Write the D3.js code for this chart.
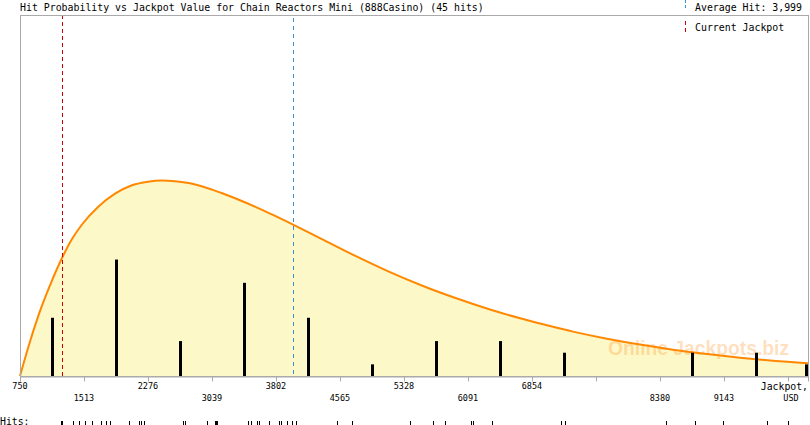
<!DOCTYPE html>
<html>
<head>
<meta charset="utf-8">
<script src="https://cdn.jsdelivr.net/npm/d3@7"></script>
<style>
  html, body { margin: 0; padding: 0; background: #fff; }
  svg { display: block; }
  text { font-family: "DejaVu Sans Mono", "Liberation Mono", monospace; fill: #000; }
</style>
</head>
<body>
<svg id="chart" width="810" height="425"></svg>
<script>
// ---------------- data ----------------
const titleText = "Hit Probability vs Jackpot Value for Chain Reactors Mini (888Casino) (45 hits)";
const averageHit = 3999;
const currentJackpot = 1254;
const xMin = 750, xMax = 10145;

const tickValues = [750, 1513, 2276, 3039, 3802, 4565, 5328, 6091, 6854, 7617, 8380, 9143, 9906];
const tickLabels = ["750", "1513", "2276", "3039", "3802", "4565", "5328", "6091", "6854", "", "8380", "9143", ""];

// hits per bin (bin width = tick step)
const binCounts = [5, 10, 3, 8, 5, 1, 3, 3, 2, 0, 2, 2, 1];

// fitted probability curve (relative level, same units as bar counts)
const curveJackpot = [750, 875, 1000, 1126, 1251, 1370, 1489, 1680, 1883, 2085, 2276, 2443, 2598, 2777,
  2979, 3170, 3373, 3576, 3766, 4005, 4362, 4768, 5161, 5555, 5960, 6353, 6747, 7069, 7343, 7748, 8142,
  8535, 8940, 9334, 9727, 10145];
const curveLevel = [0, 3.09, 5.80, 8.11, 10.13, 11.76, 13.01, 14.52, 15.66, 16.38, 16.69, 16.78, 16.72,
  16.55, 16.15, 15.67, 15.09, 14.46, 13.83, 13.00, 11.71, 10.25, 8.92, 7.73, 6.65, 5.71, 4.89, 4.29, 3.81,
  3.20, 2.70, 2.26, 1.88, 1.57, 1.31, 1.09];

// individual hits (rug)
const hits = [1239, 1251, 1378, 1453, 1529, 1612, 1712, 1775, 1823, 2046, 2165, 2196, 2225, 2697, 2721,
  2976, 3075, 3083, 3095, 3472, 3500, 3579, 3599, 3715, 3834, 3862, 3930, 3993, 4037, 4526, 4705, 5400,
  5677, 5817, 6123, 6154, 6381, 7196, 7244, 8448, 8794, 9135, 9652, 9910];

// ---------------- drawing ----------------
const svg = d3.select("#chart");
const padL = 20, padR = 808, padT = 15, padB = 376;

const x = d3.scaleLinear().domain([xMin, xMax]).range([padL, padR]);
const xc = x.copy().clamp(true);
const y = d3.scaleLinear().domain([0, 31]).range([padB, padT]);

const fmt = d3.format(",");

// area under curve
const curvePts = curveJackpot.map((v, i) => [v, curveLevel[i]]);
svg.append("path")
  .datum(curvePts)
  .attr("fill", "#fdf8c8")
  .attr("d", d3.area().x(d => x(d[0])).y0(y(0)).y1(d => y(d[1])).curve(d3.curveMonotoneX));

// watermark
svg.append("text")
  .attr("x", 608).attr("y", 355)
  .style("font-family", "'Liberation Sans', Arial, sans-serif")
  .style("font-weight", "bold")
  .style("font-size", "19.3px")
  .style("fill", "#ff9a30")
  .style("fill-opacity", 0.32)
  .text("Online Jackpots.biz");

// curve line
svg.append("path")
  .datum(curvePts)
  .attr("fill", "none")
  .attr("stroke", "#ff8800")
  .attr("stroke-width", 2)
  .attr("d", d3.line().x(d => x(d[0])).y(d => y(d[1])).curve(d3.curveMonotoneX));

// histogram bars
const binWidth = tickValues[1] - tickValues[0];
svg.append("g").selectAll("rect")
  .data(binCounts)
  .join("rect")
  .attr("x", (d, i) => Math.min(Math.round(xc(xMin + binWidth * (i + 0.5))) - 1, padR - 3))
  .attr("width", 3)
  .attr("y", d => y(d))
  .attr("height", d => y(0) - y(d))
  .attr("fill", "#000")
  .style("display", d => d > 0 ? null : "none");

// vertical reference lines
svg.append("line")
  .attr("x1", Math.round(x(currentJackpot)) + 0.5).attr("x2", Math.round(x(currentJackpot)) + 0.5)
  .attr("y1", padT).attr("y2", padB)
  .attr("stroke", "#d00000").attr("stroke-width", 1).attr("stroke-dasharray", "4,3");
svg.append("line")
  .attr("x1", Math.round(x(averageHit)) + 0.5).attr("x2", Math.round(x(averageHit)) + 0.5)
  .attr("y1", padT + 3).attr("y2", padB)
  .attr("stroke", "#3a8fcf").attr("stroke-width", 1).attr("stroke-dasharray", "4,4");

// frame
svg.append("rect")
  .attr("x", padL + 0.5).attr("y", padT + 0.5)
  .attr("width", padR - padL).attr("height", padB - padT)
  .attr("fill", "none").attr("stroke", "#aaaaaa").attr("stroke-width", 1)
  .style("shape-rendering", "crispEdges");

// x axis
const axis = d3.axisBottom(x).tickValues(tickValues).tickSize(5).tickFormat("");
const gAxis = svg.append("g").attr("transform", `translate(0,${padB + 0.5})`).call(axis);
gAxis.select(".domain").attr("stroke", "#aaaaaa");
gAxis.selectAll(".tick line").attr("stroke", "#aaaaaa");

// tick labels in two staggered rows
const labelRows = tickValues.map((v, i) => (i === 10) ? 1 : i % 2);
svg.append("g").selectAll("text")
  .data(tickValues)
  .join("text")
  .attr("x", d => x(d))
  .attr("y", (d, i) => labelRows[i] ? 401 : 388.5)
  .attr("text-anchor", "middle")
  .style("font-size", "8.5px")
  .text((d, i) => tickLabels[i]);

svg.append("text")
  .attr("x", padR).attr("y", 390)
  .attr("text-anchor", "end")
  .style("font-size", "9.8px")
  .text("Jackpot,");
svg.append("text")
  .attr("x", x(tickValues[tickValues.length - 1]) + 3).attr("y", 401)
  .attr("text-anchor", "middle")
  .style("font-size", "8.5px")
  .text("USD");

// title
svg.append("text")
  .attr("x", padL).attr("y", 10.5)
  .style("font-size", "9.9px")
  .text(titleText);

// legend
svg.append("line")
  .attr("x1", 685.5).attr("x2", 685.5).attr("y1", 0).attr("y2", 10)
  .attr("stroke", "#3a8fcf").attr("stroke-dasharray", "3,2");
svg.append("text")
  .attr("x", 695).attr("y", 10.5)
  .style("font-size", "9.9px")
  .text("Average Hit: " + fmt(averageHit));
svg.append("line")
  .attr("x1", 685.5).attr("x2", 685.5).attr("y1", 21).attr("y2", 33)
  .attr("stroke", "#d00000").attr("stroke-dasharray", "4,3");
svg.append("text")
  .attr("x", 695).attr("y", 30.5)
  .style("font-size", "9.9px")
  .text("Current Jackpot");

// hits rug
svg.append("text")
  .attr("x", 0).attr("y", 424.5)
  .style("font-size", "9.8px")
  .text("Hits:");
svg.append("g").selectAll("rect")
  .data(hits)
  .join("rect")
  .attr("x", d => Math.round(x(d)))
  .attr("y", 421)
  .attr("width", 1)
  .attr("height", 4)
  .attr("fill", "#000");
</script>
</body>
</html>
